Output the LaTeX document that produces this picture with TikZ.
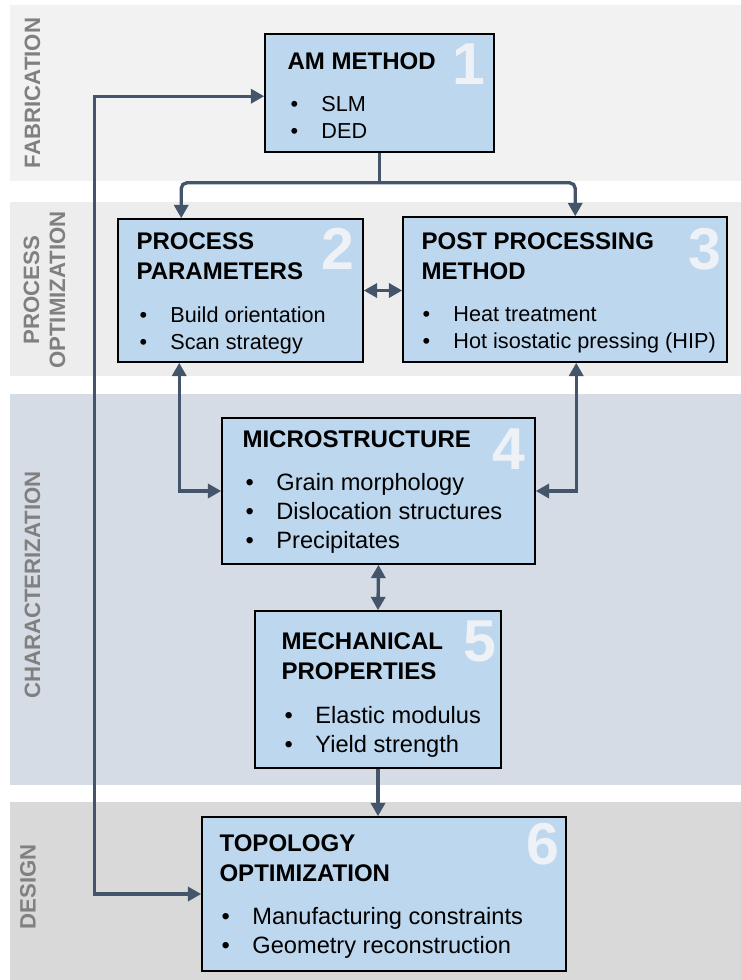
\documentclass[tikz,border=0pt]{standalone}
\usepackage{fontspec}
\setmainfont{Liberation Sans}
\usetikzlibrary{arrows.meta,positioning,fit,calc}
\definecolor{boxfill}{RGB}{189,215,238}
\definecolor{flowc}{RGB}{68,84,106}
\definecolor{fabband}{RGB}{242,242,242}
\definecolor{procband}{RGB}{237,237,237}
\definecolor{charband}{RGB}{214,220,229}
\definecolor{desband}{RGB}{217,217,217}
\definecolor{labelc}{RGB}{128,128,128}
\definecolor{numc}{RGB}{238,242,246}
\newcommand\pitem[1]{\makebox[22pt][l]{\textbullet}#1}

\begin{document}
\begin{tikzpicture}[x=0.025cm,y=-0.025cm,
    stepbox/.style={draw=black, line width=1.1pt, fill=boxfill, inner sep=0pt},
    boxtitle/.style={anchor=north west, inner sep=0pt, align=left,
      font=\fontsize{17.1}{21.3}\selectfont\bfseries},
    items/.style={anchor=north west, inner sep=0pt, align=left,
      font=\fontsize{15.4}{19.2}\selectfont},
    bigitems/.style={items, font=\fontsize{16.8}{20.6}\selectfont},
    num/.style={anchor=base east, inner sep=0pt, text=numc,
      font=\fontsize{42}{42}\selectfont\bfseries},
    bandlabel/.style={rotate=90, inner sep=0pt, align=center, text=labelc,
      font=\fontsize{15.8}{18.5}\selectfont\bfseries},
    flow/.style={draw=flowc, line width=2.4pt, -{Triangle[length=9.5pt,width=10pt]}},
    twoway/.style={flow, {Triangle[length=9.5pt,width=10pt]}-{Triangle[length=9.5pt,width=10pt]}}]
  \useasboundingbox (0,0) rectangle (741,980);

  % bands
  \fill[fabband] (10,5) rectangle (741,181);
  \fill[procband] (10,202) rectangle (741,376);
  \fill[charband] (10,394) rectangle (741,785);
  \fill[desband] (10,802) rectangle (741,980);
  \node[bandlabel] (fablabel) at (32.5,93) {FABRICATION};
  \node[bandlabel] (proclabel) at (44.5,290) {PROCESS\\OPTIMIZATION};
  \node[bandlabel] (charlabel) at (32.5,585) {CHARACTERIZATION};
  \node[bandlabel] (deslabel) at (28,887) {DESIGN};

  % boxes
  \node[stepbox, fit={(265,34) (494,152)}] (am) {};
  \node[stepbox, fit={(118,219) (363,362)}] (pp) {};
  \node[stepbox, fit={(403,217) (727,362)}] (pm) {};
  \node[stepbox, fit={(222,418) (535,564)}] (ms) {};
  \node[stepbox, fit={(255,611) (501,768)}] (mp) {};
  \node[stepbox, fit={(202,817) (566,971)}] (to) {};

  % numbers
  \node[num] (amnum) at ($(am.north east)+(-9,51)$) {1};
  \node[num] (ppnum) at ($(pp.north east)+(-9,51)$) {2};
  \node[num] (pmnum) at ($(pm.north east)+(-6,53)$) {3};
  \node[num] (msnum) at ($(ms.north east)+(-10,52)$) {4};
  \node[num] (mpnum) at ($(mp.north east)+(-5,51)$) {5};
  \node[num] (tonum) at ($(to.north east)+(-7,48)$) {6};

  % texts
  \node[boxtitle] (amtitle) at ($(am.north west)+(23,19)$) {AM METHOD};
  \node[items] (amlist) at ($(am.north west)+(26,63)$) {\pitem{SLM}\\\pitem{DED}};
  \node[boxtitle] (pptitle) at ($(pp.north west)+(19,14)$) {PROCESS\\PARAMETERS};
  \node[items] (pplist) at ($(pp.north west)+(22,88)$) {\pitem{Build orientation}\\\pitem{Scan strategy}};
  \node[boxtitle] (pmtitle) at ($(pm.north west)+(19,16)$) {POST PROCESSING\\METHOD};
  \node[items] (pmlist) at ($(pm.north west)+(20,90)$) {\pitem{Heat treatment}\\\pitem{Hot isostatic pressing (HIP)}};
  \node[boxtitle] (mstitle) at ($(ms.north west)+(21,13)$) {MICROSTRUCTURE};
  \node[bigitems] (mslist) at ($(ms.north west)+(24,56)$) {\pitem{Grain morphology}\\\pitem{Dislocation structures}\\\pitem{Precipitates}};
  \node[boxtitle] (mptitle) at ($(mp.north west)+(27,22)$) {MECHANICAL\\PROPERTIES};
  \node[bigitems] (mplist) at ($(mp.north west)+(30,96)$) {\pitem{Elastic modulus}\\\pitem{Yield strength}};
  \node[boxtitle] (totitle) at ($(to.north west)+(18,18)$) {TOPOLOGY\\OPTIMIZATION};
  \node[bigitems] (tolist) at ($(to.north west)+(20,91)$) {\pitem{Manufacturing constraints}\\\pitem{Geometry reconstruction}};

  % connectors
  \draw[draw=flowc, line width=2.4pt] (am.south) -- ++(0,30);
  \draw[twoway, rounded corners=4pt] ($(pp.north west)+(64,0)$) |- ($(am.south)+(0,30)$) -| ($(pm.north west)+(173,0)$);
  \draw[twoway] (pp.east) -- (pp.east -| pm.west);
  \draw[twoway] ($(pp.south west)+(62,0)$) |- (ms.west);
  \draw[twoway] ($(pm.south west)+(174,0)$) |- (ms.east);
  \draw[twoway] (ms.south) -- (mp.north);
  \draw[flow] (mp.south) -- (mp.south |- to.north);
  \draw[twoway] ($(am.north west)+(0,63)$) -- ++(-170,0) |- (to.west);
\end{tikzpicture}
\end{document}
